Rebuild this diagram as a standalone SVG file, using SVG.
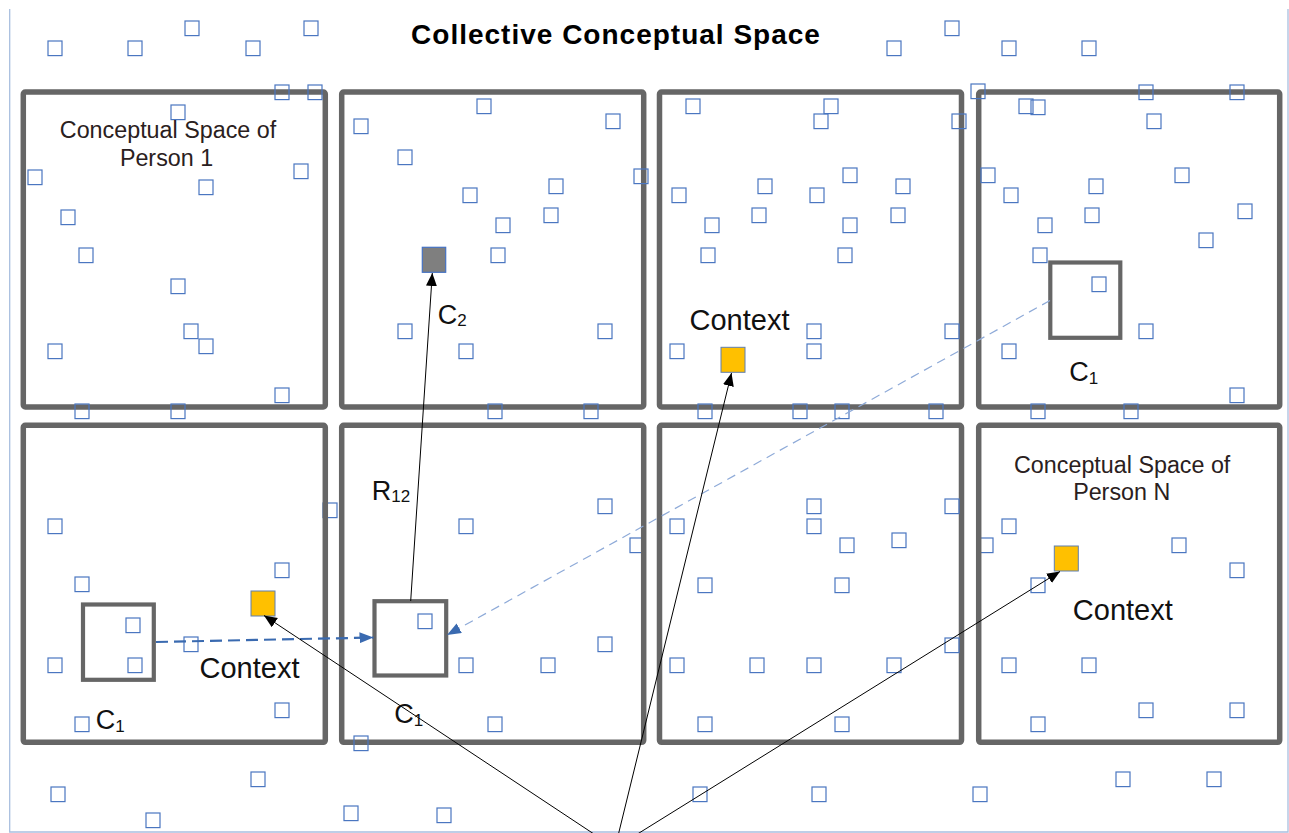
<svg xmlns="http://www.w3.org/2000/svg" xmlns:xlink="http://www.w3.org/1999/xlink" width="1289" height="833" viewBox="0 0 1289 833">
<style>
.frame{fill:none;stroke:#a9bfdf;stroke-width:1.3}
.panel{fill:none;stroke:#666666;stroke-width:5.5}
.box{fill:none;stroke:#666666;stroke-width:4.2}
.sq{fill:none;stroke:#4a76c0;stroke-width:1.2}
.ctx{fill:#ffc000;stroke:#5f7fb0;stroke-width:1}
.gray{fill:#7f7f7f;stroke:#4472c4;stroke-width:1.2}
.title{font-family:"Liberation Sans",Arial,sans-serif;font-weight:bold;font-size:28px;letter-spacing:1px;fill:#000}
.lab{font-family:"Liberation Sans",Arial,sans-serif;font-size:23.3px;fill:#2a2020}
.big{font-family:"Liberation Sans",Arial,sans-serif;font-size:29px;fill:#111}
.cl{font-family:"Liberation Sans",Arial,sans-serif;font-size:27px;fill:#111}
.sub{font-size:17px}
.blk{fill:none;stroke:#000;stroke-width:1}
.thick{fill:none;stroke:#3a6ab0;stroke-width:2.2;stroke-dasharray:12 6}
.thin{fill:none;stroke:#8eaad8;stroke-width:1.2;stroke-dasharray:9 6}
</style>
<defs>
<rect id="s" width="14" height="14.6" class="sq"/>
<marker id="ab" markerUnits="userSpaceOnUse" markerWidth="14" markerHeight="12" refX="13" refY="5.5" orient="auto"><path d="M0,0 L13,5.5 L0,11 z" fill="#000"/></marker>
<marker id="au" markerUnits="userSpaceOnUse" markerWidth="15" markerHeight="12" refX="14" refY="5.5" orient="auto"><path d="M0,0 L14,5.5 L0,11 z" fill="#3a6ab0"/></marker>
</defs>
<rect width="1289" height="833" fill="#fff"/>
<g id="frame">
<path class="frame" d="M9.7,9 V832 H1288 V9"/>
</g>
<g id="hidden-squares">
<use href="#s" x="323" y="503"/><use href="#s" x="630" y="538"/><use href="#s" x="979" y="538"/>
</g>
<g id="person-1"><rect class="panel" x="23.3" y="92" width="302" height="315" rx="2"/></g>
<g id="person-2"><rect class="panel" x="341.7" y="92" width="302" height="315" rx="2"/></g>
<g id="person-3"><rect class="panel" x="659.5" y="92" width="302" height="315" rx="2"/></g>
<g id="person-4"><rect class="panel" x="978.7" y="92" width="301" height="315" rx="2"/></g>
<g id="person-5"><rect class="panel" x="23.3" y="425.3" width="302" height="317" rx="2"/></g>
<g id="person-6"><rect class="panel" x="341.7" y="425.3" width="302" height="317" rx="2"/></g>
<g id="person-7"><rect class="panel" x="659.5" y="425.3" width="302" height="317" rx="2"/></g>
<g id="person-n"><rect class="panel" x="978.7" y="425.3" width="301" height="317" rx="2"/></g>
<g id="concept-squares">
<use href="#s" x="48" y="41"/><use href="#s" x="128" y="41"/><use href="#s" x="185" y="21"/><use href="#s" x="246" y="41"/><use href="#s" x="304" y="21"/>
<use href="#s" x="887" y="41"/><use href="#s" x="945" y="21"/><use href="#s" x="1002" y="41"/><use href="#s" x="1082" y="41"/>
<use href="#s" x="275" y="85"/><use href="#s" x="308" y="85"/><use href="#s" x="171" y="105"/><use href="#s" x="28" y="170"/><use href="#s" x="294" y="164"/><use href="#s" x="199" y="180"/><use href="#s" x="61" y="210"/><use href="#s" x="79" y="248"/><use href="#s" x="171" y="279"/>
<use href="#s" x="184" y="324"/><use href="#s" x="199" y="339"/><use href="#s" x="48" y="344"/><use href="#s" x="275" y="388"/><use href="#s" x="75" y="404"/><use href="#s" x="171" y="404"/>
<use href="#s" x="354" y="119"/><use href="#s" x="398" y="150"/><use href="#s" x="477" y="99"/><use href="#s" x="606" y="114"/><use href="#s" x="634" y="169"/><use href="#s" x="463" y="188"/><use href="#s" x="549" y="179"/><use href="#s" x="496" y="218"/><use href="#s" x="544" y="208"/><use href="#s" x="491" y="248"/>
<use href="#s" x="398" y="324"/><use href="#s" x="459" y="344"/><use href="#s" x="598" y="324"/><use href="#s" x="488" y="404"/><use href="#s" x="584" y="404"/>
<use href="#s" x="686" y="99"/><use href="#s" x="824" y="99"/><use href="#s" x="814" y="114"/><use href="#s" x="843" y="168"/><use href="#s" x="672" y="188"/><use href="#s" x="758" y="179"/><use href="#s" x="810" y="188"/><use href="#s" x="705" y="218"/><use href="#s" x="752" y="208"/><use href="#s" x="843" y="218"/><use href="#s" x="701" y="248"/><use href="#s" x="838" y="248"/><use href="#s" x="896" y="179"/><use href="#s" x="891" y="208"/>
<use href="#s" x="670" y="344"/><use href="#s" x="807" y="324"/><use href="#s" x="807" y="344"/><use href="#s" x="698" y="404"/><use href="#s" x="793" y="404"/><use href="#s" x="835" y="404"/><use href="#s" x="945" y="324"/>
<use href="#s" x="971" y="84"/><use href="#s" x="1019" y="99"/><use href="#s" x="1031" y="100"/><use href="#s" x="1139" y="85"/><use href="#s" x="1230" y="85"/><use href="#s" x="952" y="114"/><use href="#s" x="1147" y="114"/><use href="#s" x="981" y="168"/><use href="#s" x="1175" y="168"/><use href="#s" x="1004" y="188"/><use href="#s" x="1089" y="179"/><use href="#s" x="1038" y="218"/><use href="#s" x="1085" y="208"/><use href="#s" x="1238" y="204"/><use href="#s" x="1199" y="233"/><use href="#s" x="1033" y="248"/><use href="#s" x="1092" y="277"/>
<use href="#s" x="1002" y="344"/><use href="#s" x="1139" y="324"/><use href="#s" x="1230" y="388"/><use href="#s" x="929" y="404"/><use href="#s" x="1031" y="404"/><use href="#s" x="1124" y="404"/>
<use href="#s" x="48" y="519"/><use href="#s" x="75" y="577"/><use href="#s" x="126" y="618"/><use href="#s" x="48" y="658"/><use href="#s" x="128" y="658"/><use href="#s" x="184" y="637"/><use href="#s" x="275" y="563"/><use href="#s" x="275" y="703"/><use href="#s" x="75" y="717"/>
<use href="#s" x="459" y="519"/><use href="#s" x="598" y="499"/><use href="#s" x="598" y="637"/><use href="#s" x="459" y="658"/><use href="#s" x="541" y="658"/><use href="#s" x="488" y="717"/><use href="#s" x="418" y="614"/>
<use href="#s" x="670" y="519"/><use href="#s" x="807" y="499"/><use href="#s" x="807" y="519"/><use href="#s" x="840" y="538"/><use href="#s" x="892" y="533"/><use href="#s" x="945" y="499"/><use href="#s" x="698" y="578"/><use href="#s" x="835" y="578"/><use href="#s" x="670" y="658"/><use href="#s" x="750" y="658"/><use href="#s" x="807" y="658"/><use href="#s" x="887" y="658"/><use href="#s" x="945" y="638"/><use href="#s" x="698" y="717"/><use href="#s" x="835" y="717"/>
<use href="#s" x="1002" y="519"/><use href="#s" x="1172" y="538"/><use href="#s" x="1230" y="563"/><use href="#s" x="1031" y="578"/><use href="#s" x="1002" y="658"/><use href="#s" x="1082" y="658"/><use href="#s" x="1139" y="703"/><use href="#s" x="1230" y="703"/><use href="#s" x="1031" y="717"/>
<use href="#s" x="354" y="736"/><use href="#s" x="51" y="787"/><use href="#s" x="146" y="813"/><use href="#s" x="251" y="772"/><use href="#s" x="344" y="806"/><use href="#s" x="437" y="808"/><use href="#s" x="693" y="787"/><use href="#s" x="812" y="787"/><use href="#s" x="973" y="787"/><use href="#s" x="1116" y="772"/><use href="#s" x="1207" y="772"/>
</g>
<g id="c1-person4"><rect class="box" x="1050.3" y="262.5" width="70" height="75.3"/></g>
<g id="c1-person5"><rect class="box" x="83" y="604.5" width="70.8" height="75.3"/></g>
<g id="c1-person6"><rect class="box" x="374.5" y="601.2" width="71.7" height="74.3"/></g>
<g id="c2-person2"><rect class="gray" x="422.3" y="247.3" width="23.4" height="25"/></g>
<g id="context-person3"><rect class="ctx" x="721" y="347.3" width="24" height="25"/></g>
<g id="context-person5"><rect class="ctx" x="251" y="591" width="24" height="25"/></g>
<g id="context-personn"><rect class="ctx" x="1054.3" y="546" width="24" height="25"/></g>
<g id="connectors">
<line class="blk" x1="410.7" y1="601" x2="432.3" y2="273" marker-end="url(#ab)"/>
<line class="thick" x1="156" y1="642" x2="373.5" y2="637.5" marker-end="url(#au)"/>
<line class="thin" x1="1050" y1="300.5" x2="447" y2="635" marker-end="url(#au)"/>
<line class="blk" x1="603" y1="840" x2="264" y2="615.5" marker-end="url(#ab)"/>
<line class="blk" x1="617" y1="840" x2="731.5" y2="373" marker-end="url(#ab)"/>
<line class="blk" x1="627.8" y1="840" x2="1060" y2="571.5" marker-end="url(#ab)"/>
</g>
<g id="labels">
<text class="title" x="616" y="44" text-anchor="middle">Collective Conceptual Space</text>
<text class="lab" x="168" y="138.3" text-anchor="middle">Conceptual Space of</text>
<text class="lab" x="166.5" y="165.7" text-anchor="middle">Person 1</text>
<text class="lab" x="1122.2" y="472.7" text-anchor="middle">Conceptual Space of</text>
<text class="lab" x="1121.7" y="500" text-anchor="middle">Person N</text>
<text class="big" x="739.5" y="330" text-anchor="middle">Context</text>
<text class="big" x="249.5" y="678.3" text-anchor="middle">Context</text>
<text class="big" x="1122.8" y="620" text-anchor="middle">Context</text>
<text class="cl" x="437.7" y="324.3">C<tspan class="sub" dy="2">2</tspan></text>
<text class="cl" x="1069.3" y="381">C<tspan class="sub" dy="3">1</tspan></text>
<text class="cl" x="95.7" y="729.3">C<tspan class="sub" dy="2.5">1</tspan></text>
<text class="cl" x="394.3" y="723.3">C<tspan class="sub" dy="2.5">1</tspan></text>
<text class="cl" x="371.7" y="500">R<tspan class="sub" dy="2.3">12</tspan></text>
</g>
</svg>
